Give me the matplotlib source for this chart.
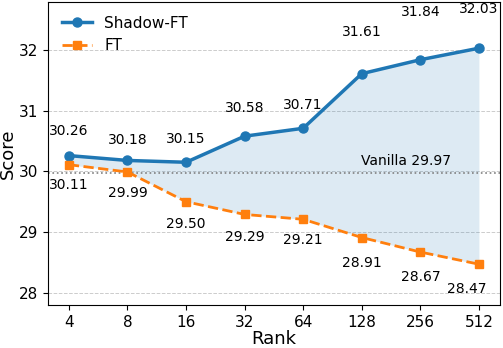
import matplotlib
matplotlib.use("Agg")
import matplotlib.pyplot as plt
import numpy as np

# ── Data ──────────────────────────────────────────────────────────────────────
ranks = ["4", "8", "16", "32", "64", "128", "256", "512"]
shadow_ft = [30.26, 30.18, 30.15, 30.58, 30.71, 31.61, 31.84, 32.03]
ft = [30.11, 29.99, 29.50, 29.29, 29.21, 28.91, 28.67, 28.47]
vanilla = 29.97

BLUE = "#1f77b4"
ORANGE = "#ff7f0e"

# label offsets (points) — hand-tuned to avoid overlaps
shadow_dy = [18, 15, 16.5, 20, 17, 30, 34.5, 28]
ft_dy = [14.5, 15, 16, 16.5, 15, 18, 18, 18]
ft_dx = [0, 0, 0, 0, 0, 0, 0, -9]

x = np.arange(len(ranks))

fig, ax = plt.subplots(figsize=(5.03, 3.48), dpi=100)
fig.subplots_adjust(left=0.095, right=0.994, top=0.994, bottom=0.124)

ax.fill_between(x, ft, shadow_ft, color=BLUE, alpha=0.15, linewidth=0)
ax.axhline(vanilla, color="gray", linestyle=":", linewidth=1.2)
ax.plot(x, shadow_ft, color=BLUE, marker="o", markersize=6.5, linewidth=2.5,
        label="Shadow-FT")
ax.plot(x, ft, color=ORANGE, marker="s", markersize=5.5, linewidth=2,
        linestyle="--", label="FT")

for xi, v, dy in zip(x, shadow_ft, shadow_dy):
    ax.annotate(f"{v:.2f}", (xi, v), xytext=(0, dy), textcoords="offset points",
                ha="center", va="center", fontsize=10)
for xi, v, dx, dy in zip(x, ft, ft_dx, ft_dy):
    ax.annotate(f"{v:.2f}", (xi, v), xytext=(dx, -dy), textcoords="offset points",
                ha="center", va="center", fontsize=10)

ax.text(5.75, vanilla + 0.08, f"Vanilla {vanilla:.2f}", ha="center",
        va="bottom", fontsize=10)

ax.set_xticks(x)
ax.set_xticklabels(ranks)
ax.set_xlim(-0.36, 7.36)
ax.set_ylim(27.8, 32.79)
ax.set_yticks([28, 29, 30, 31, 32])
ax.tick_params(labelsize=11)
ax.grid(axis="y", linestyle="--", color="#cccccc", linewidth=0.7)
ax.set_axisbelow(True)
ax.set_xlabel("Rank", fontsize=13, labelpad=0)
ax.set_ylabel("Score", fontsize=13, labelpad=1)
ax.legend(loc="upper left", fontsize=11, frameon=False)

fig.savefig("out.png", dpi=100)
